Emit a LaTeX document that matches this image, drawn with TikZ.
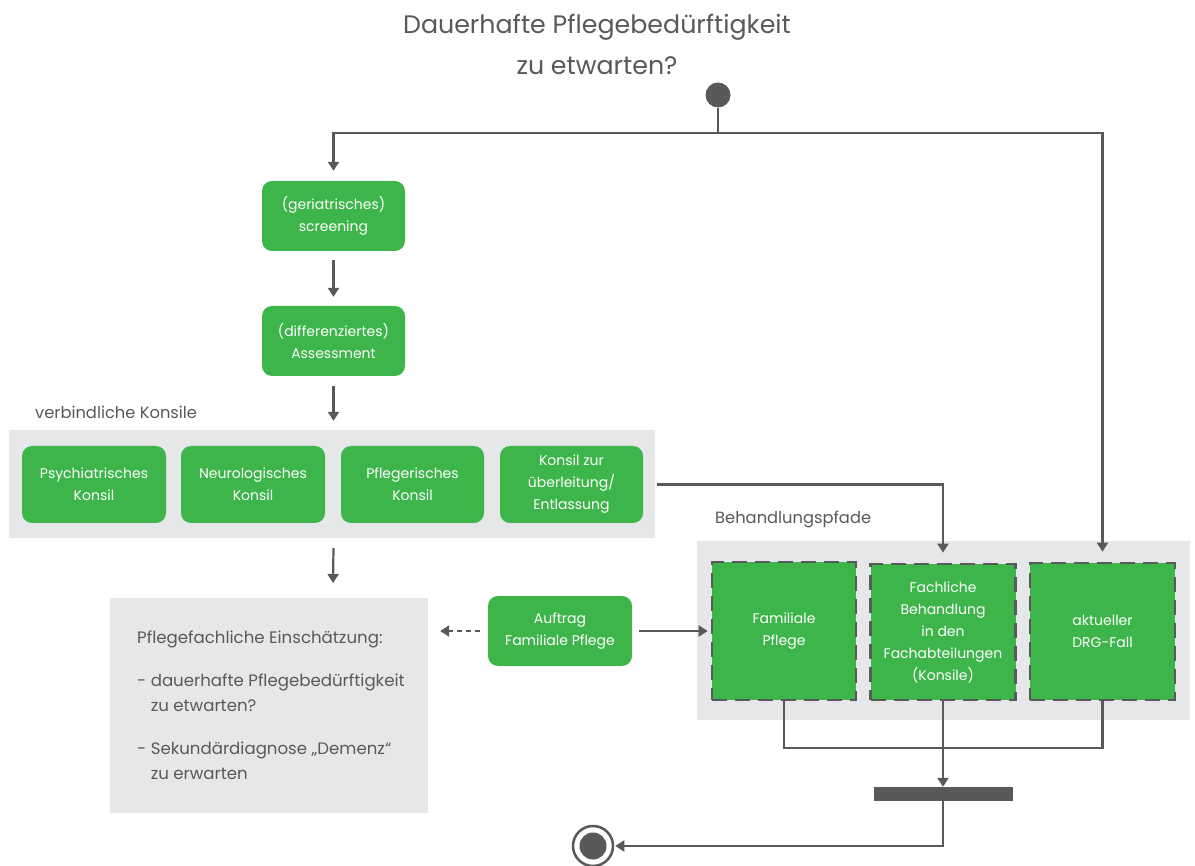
\documentclass[tikz,border=0pt]{standalone}
\usepackage{fontspec}
\setmainfont{Poppins}
\usetikzlibrary{arrows.meta,positioning,calc}
\definecolor{gr}{RGB}{61,181,74}
\definecolor{pan}{RGB}{230,231,232}
\definecolor{lc}{RGB}{88,89,91}
\tikzset{
  gbox/.style={rounded corners=10pt, fill=gr, text=white, align=center, inner sep=2pt,
    font=\fontsize{14}{22}\selectfont},
  dbox/.style={fill=gr, draw=lc, line width=2.7pt, dash pattern=on 15pt off 8pt, text=white,
    align=center, inner sep=2pt, font=\fontsize{14}{22}\selectfont},
  panel/.style={fill=pan, draw=none, inner sep=0pt},
  ln/.style={draw=lc, line width=2.2pt},
  arr/.style={ln, -{Triangle[length=9pt,width=11pt]}},
  lbl/.style={text=lc, font=\fontsize{16.3}{18}\selectfont, inner sep=0pt}
}
\begin{document}
\begin{tikzpicture}[x=1pt,y=-1pt]
\fill[white] (0,0) rectangle (1195,866);
\useasboundingbox (0,0) rectangle (1195,866);
% title
\node[text=lc, align=center, font=\fontsize{25.3}{41}\selectfont] (title) at (597,44)
  {Dauerhafte Pflegebedürftigkeit\\zu etwarten?};
\node[circle, fill=lc, minimum size=25pt, inner sep=0pt] (start) at (718,95) {};
\coordinate (j) at (718,133);
% left flow
\node[gbox, minimum width=143pt, minimum height=70pt] (screen) at (333.5,216) {(geriatrisches)\\screening};
\node[gbox, minimum width=143pt, minimum height=70pt] (assess) at (333.5,341) {(differenziertes)\\Assessment};
\node[lbl, anchor=west] (vk) at (35,412) {verbindliche Konsile};
\node[panel, minimum width=646pt, minimum height=108pt] (konsile) at (332,484) {};
\node[gbox, minimum width=144pt, minimum height=77pt] (k1) at (94,484.5) {Psychiatrisches\\Konsil};
\node[gbox, minimum width=144pt, minimum height=77pt] (k2) at (253,484.5) {Neurologisches\\Konsil};
\node[gbox, minimum width=143pt, minimum height=77pt] (k3) at (412.5,484.5) {Pflegerisches\\Konsil};
\node[gbox, minimum width=143pt, minimum height=77pt] (k4) at (571.5,484.5) {Konsil zur\\überleitung/\\Entlassung};
\coordinate (a1) at (333,583);
% assessment box
\node[panel, minimum width=318pt, minimum height=215pt] (pf) at (269,705.5) {};
\node[text=lc, anchor=west, align=left, inner sep=0pt, font=\fontsize{16.6}{25}\selectfont] (pftext) at (137,705)
  {Pflegefachliche Einschätzung:\\[18pt]- dauerhafte Pflegebedürftigkeit\\\hphantom{- }zu etwarten?\\[18pt]- Sekundärdiagnose „Demenz“\\\hphantom{- }zu erwarten};
\node[gbox, minimum width=144pt, minimum height=70pt] (auftrag) at (560,631) {Auftrag\\Familiale Pflege};
% Behandlungspfade
\node[lbl, anchor=west] (bp) at (715,519) {Behandlungspfade};
\node[panel, minimum width=493pt, minimum height=179pt] (bpanel) at (943.5,630.5) {};
\node[dbox, minimum width=144pt, minimum height=138pt] (fam) at (784,631) {Familiale\\Pflege};
\node[dbox, minimum width=145pt, minimum height=136pt] (fach) at (943,632) {Fachliche\\Behandlung\\in den\\Fachabteilungen\\(Konsile)};
\node[dbox, minimum width=145pt, minimum height=137pt] (drg) at (1102.5,631.5) {aktueller\\DRG-Fall};
\coordinate (jb) at (943,748);
\node[fill=lc, minimum width=139pt, minimum height=14pt, inner sep=0pt] (bar) at (943,794) {};
\node[circle, draw=lc, line width=2.5pt, fill=white, minimum size=40pt, inner sep=0pt] (end) at (593,846) {};
\node[circle, fill=lc, minimum size=27pt, inner sep=0pt] (endin) at (593,846) {};
% connectors
\draw[ln] (start) -- (j);
\draw[arr] (j) -| ([yshift=10pt]screen.north);
\draw[arr] (j) -| ([yshift=10pt]drg.north);
\draw[arr, shorten <=9pt, shorten >=9pt] (screen) -- (assess);
\draw[arr, shorten <=10pt, shorten >=9pt] (assess) -- (konsile.north -| assess);
\draw[arr] ([yshift=-10pt]konsile.south -| assess) -- (a1);
\draw[arr] ([xshift=2pt]konsile.east |- k4) -| ([yshift=10pt]fach.north);
\draw[arr, dash pattern=on 5pt off 4pt, shorten <=8pt, shorten >=12pt] (auftrag.west) -- (pf.east |- auftrag);
\draw[arr, shorten <=7pt, shorten >=3pt] (auftrag.east) -- (fam.west |- auftrag);
\draw[ln] (fam.south) |- (drg.south |- jb) -- (drg.south);
\draw[arr] (fach.south) -- (bar.north);
\draw[arr, shorten >=1pt] (bar.south) |- (end.east);
\end{tikzpicture}
\end{document}
